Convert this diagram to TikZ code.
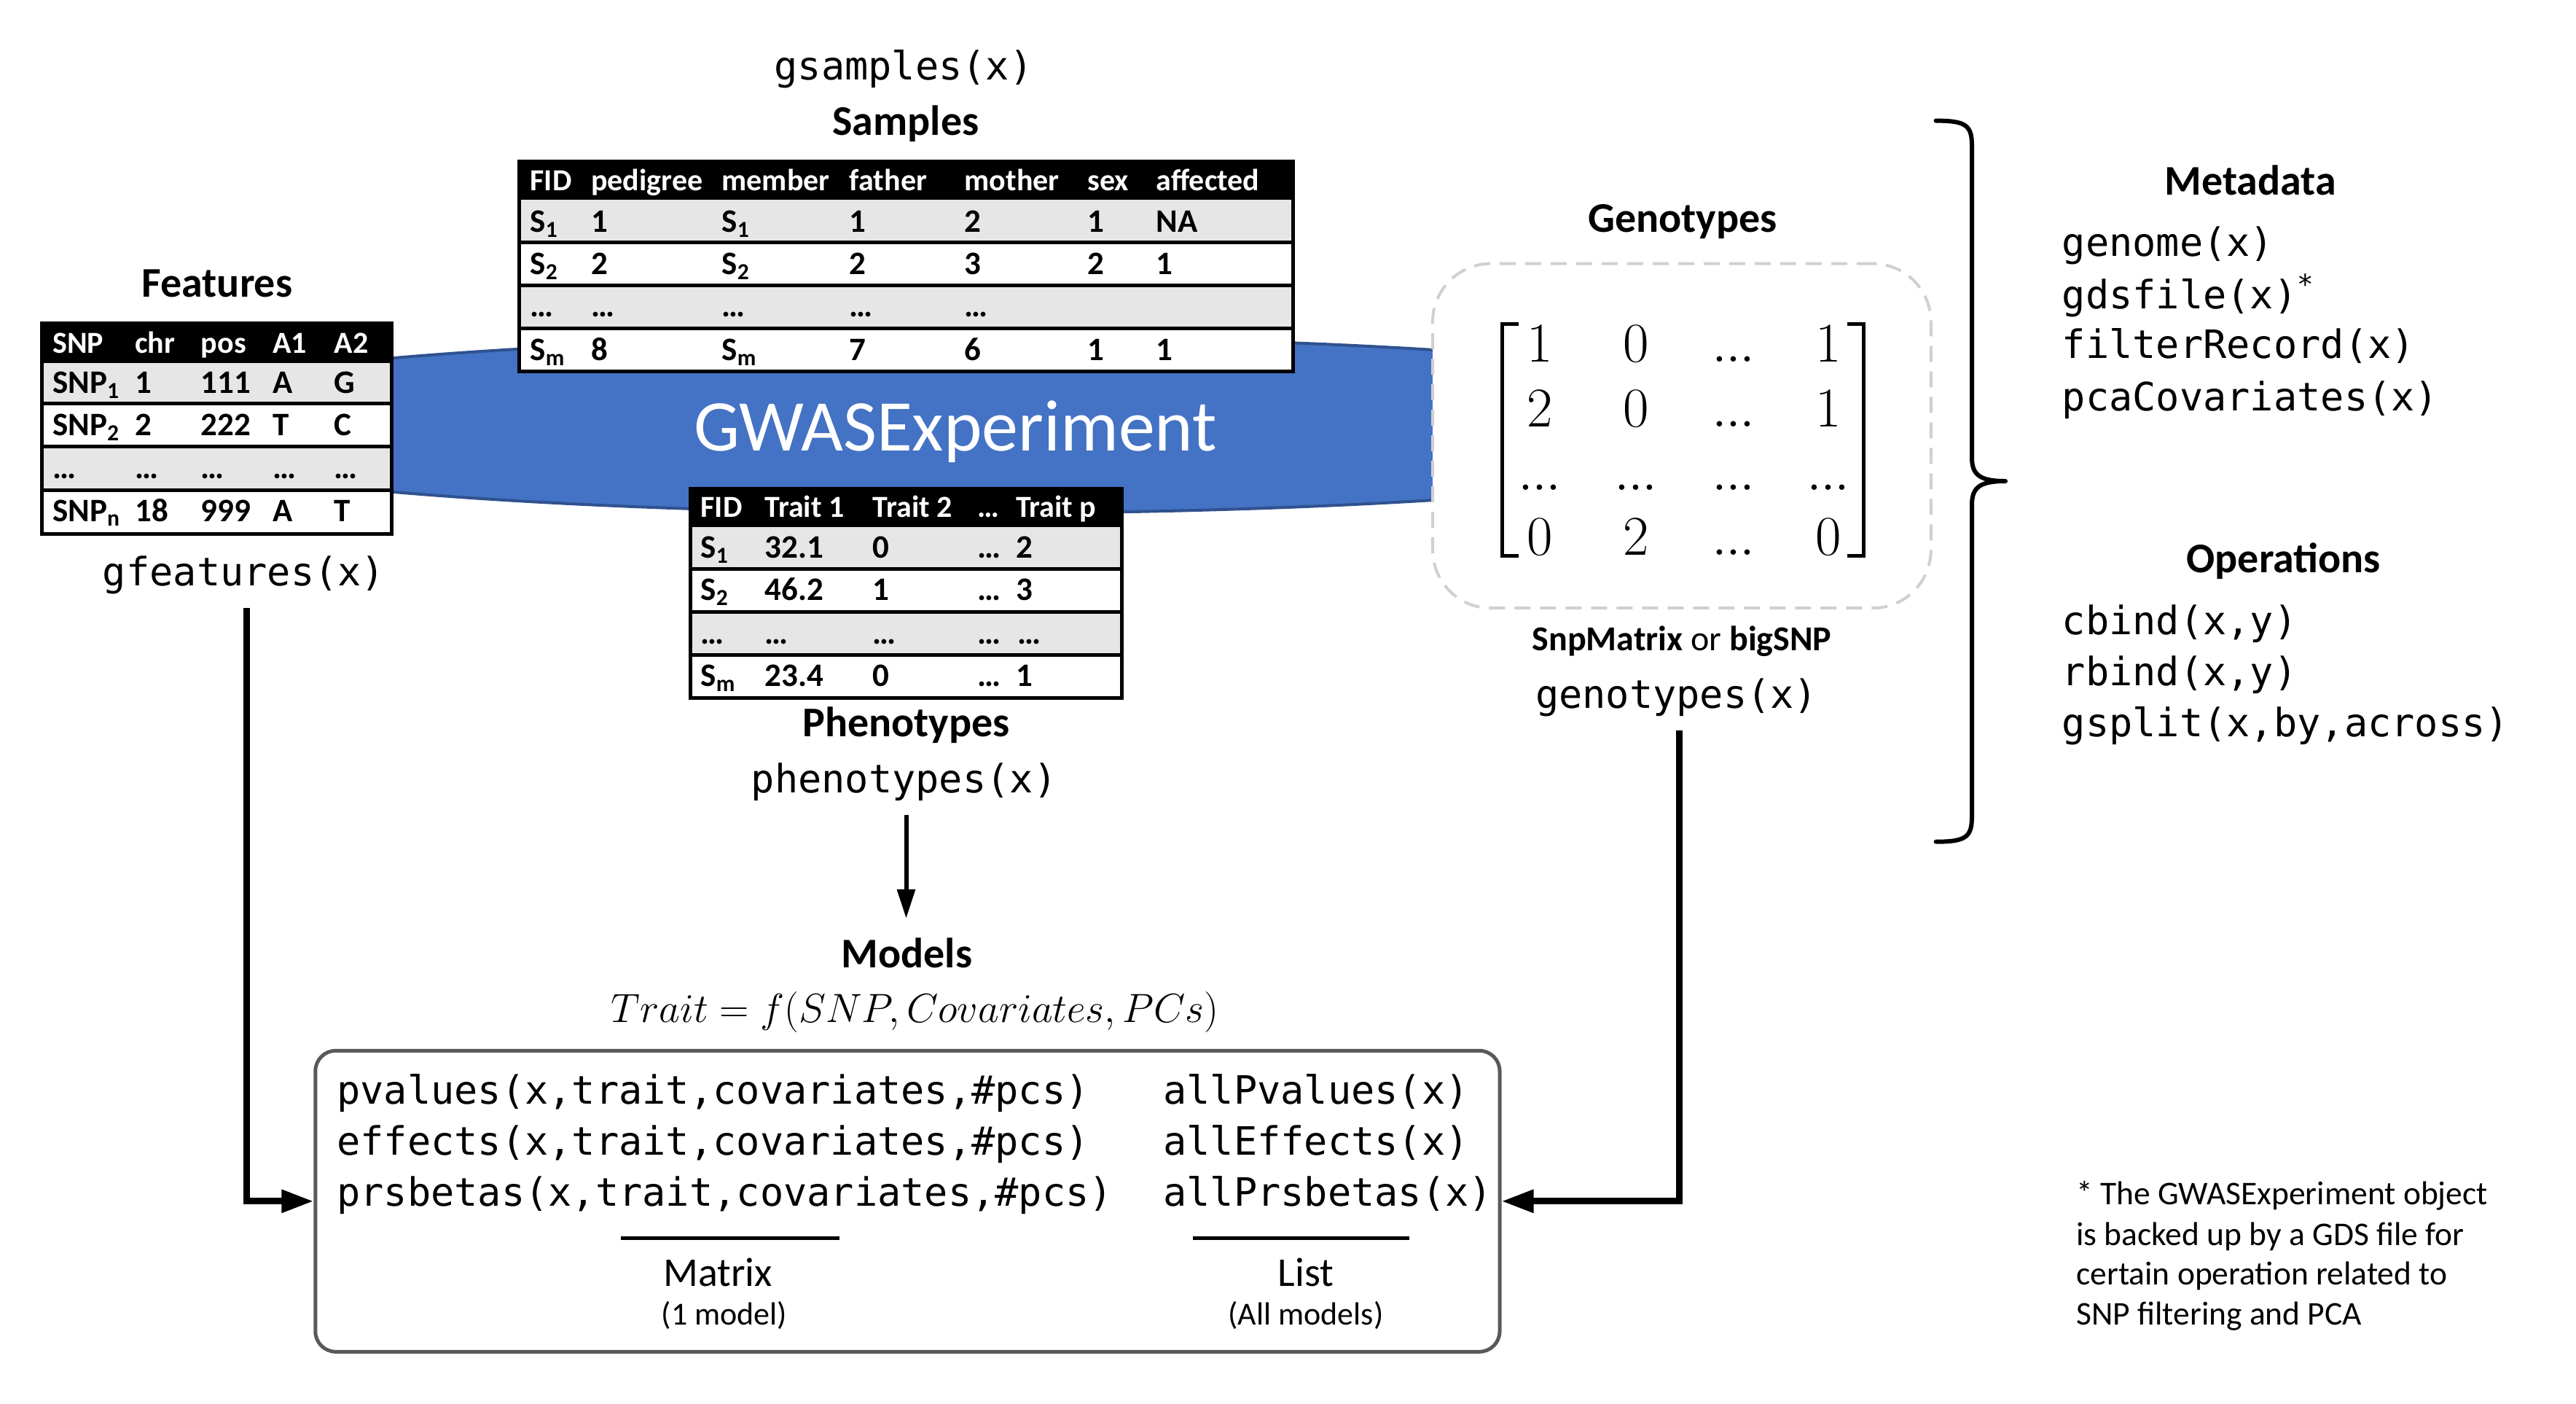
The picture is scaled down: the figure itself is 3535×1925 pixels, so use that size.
\documentclass[tikz,border=0pt]{standalone}
\usepackage{fix-cm}
\usepackage[no-math]{fontspec}
\setmainfont{Carlito}
\setmonofont{DejaVu Sans Mono}
\usetikzlibrary{arrows.meta,shapes.geometric}
\definecolor{rowgray}{HTML}{E7E6E6}
\definecolor{gwasblue}{HTML}{4472C4}
\definecolor{gwasedge}{HTML}{2F528F}
\definecolor{boxgray}{HTML}{595959}
\definecolor{dashgray}{HTML}{D0D0D0}
\newcommand\setfs[1]{\fontsize{#1}{#1}\selectfont}
\newcommand\sbs[1]{\textsubscript{#1}}
\newcommand\mdots{.\mkern-0.5mu.\mkern-0.5mu.}
\begin{document}
\begin{tikzpicture}[x=1pt,y=-1pt,
  monotext/.style={font=\ttfamily\setfs{53.6}, inner sep=0pt},
  heading/.style={font=\bfseries\setfs{58}, inner sep=0pt, anchor=base},
  tabhead/.style={font=\bfseries\setfs{42}, text=white, inner sep=0pt, anchor=base west},
  tabcell/.style={font=\bfseries\setfs{45}, inner sep=0pt, anchor=base west},
  rowline/.style={line width=5pt},
  fatarrow/.style={line width=9pt, -{Triangle[length=44pt,width=30pt]}},
  thinarrow/.style={line width=6pt, -{Triangle[length=40pt,width=24pt]}},
  mathcell/.style={font=\setfs{77}, inner sep=0pt, anchor=base},
  foot/.style={font=\setfs{45.5}, inner sep=0pt, anchor=base west}
]
\useasboundingbox (0,0) rectangle (3535,1925);

% central ellipse
\node[ellipse, fill=gwasblue, draw=gwasedge, line width=4pt, minimum width=2430pt, minimum height=242pt, inner sep=0pt] (gwas) at (1330,583) {};
\node[font=\setfs{100}, text=white, inner sep=0pt, anchor=base] (gwaslabel) at (1311,618) {GWASExperiment};

% ---------------- Samples table
\node[monotext, anchor=base] (gsamp) at (1240,109) {gsamples(x)};
\node[heading] (samtitle) at (1243,185.4) {Samples};
\fill[black] (712.7,221.8) rectangle (1774.2,274.1);
\fill[rowgray] (712.7,274.1) rectangle (1774.2,332.3);
\fill[white] (712.7,332.3) rectangle (1774.2,391.2);
\fill[rowgray] (712.7,391.2) rectangle (1774.2,450.8);
\fill[white] (712.7,450.8) rectangle (1774.2,509);
\draw[rowline] (712.7,332.3) -- (1774.2,332.3) (712.7,391.2) -- (1774.2,391.2) (712.7,450.8) -- (1774.2,450.8);
\draw[line width=5pt] (712.7,221.8) rectangle (1774.2,509);
\foreach \x/\t [count=\i] in {727.3/FID,810.9/pedigree,990.5/member,1165.7/father,1323.5/mother,1492.1/sex,1586.6/affected}
  \node[tabhead] (samh\i) at (\x,261.8) {\t};
\foreach \x/\t [count=\i] in {727.3/S\sbs{1},810.9/1,990.5/S\sbs{1},1165.7/1,1323.5/2,1492.1/1,1586.6/NA}
  \node[tabcell] (sama\i) at (\x,318.5) {\t};
\foreach \x/\t [count=\i] in {727.3/S\sbs{2},810.9/2,990.5/S\sbs{2},1165.7/2,1323.5/3,1492.1/2,1586.6/1}
  \node[tabcell] (samb\i) at (\x,376.6) {\t};
\foreach \x [count=\i] in {727.3,810.9,990.5,1165.7,1323.5}
  \node[tabcell] (samc\i) at (\x,434.8) {…};
\foreach \x/\t [count=\i] in {727.3/S\sbs{m},810.9/8,990.5/S\sbs{m},1165.7/7,1323.5/6,1492.1/1,1586.6/1}
  \node[tabcell] (samd\i) at (\x,494.4) {\t};

% ---------------- Features table
\node[heading] (feattitle) at (298,407.4) {Features};
\fill[black] (57.9,443.2) rectangle (537.8,498.1);
\fill[rowgray] (57.9,498.1) rectangle (537.8,553.9);
\fill[white] (57.9,553.9) rectangle (537.8,612.9);
\fill[rowgray] (57.9,612.9) rectangle (537.8,672.2);
\fill[white] (57.9,672.2) rectangle (537.8,732.5);
\draw[rowline] (57.9,553.9) -- (537.8,553.9) (57.9,612.9) -- (537.8,612.9) (57.9,672.2) -- (537.8,672.2);
\draw[line width=5pt] (57.9,443.2) rectangle (537.8,732.5);
\foreach \x/\t [count=\i] in {72.1/SNP,185.1/chr,275.7/pos,374/A1,458.7/A2}
  \node[tabhead] (feah\i) at (\x,484.7) {\t};
\foreach \x/\t [count=\i] in {72.1/SNP\sbs{1},185.1/1,275.7/111,374/A,458.7/G}
  \node[tabcell] (feaa\i) at (\x,539.6) {\t};
\foreach \x/\t [count=\i] in {72.1/SNP\sbs{2},185.1/2,275.7/222,374/T,458.7/C}
  \node[tabcell] (feab\i) at (\x,597.6) {\t};
\foreach \x [count=\i] in {72.1,185.1,275.7,374,458.7}
  \node[tabcell] (feac\i) at (\x,656.5) {…};
\foreach \x/\t [count=\i] in {72.1/SNP\sbs{n},185.1/18,275.7/999,374/A,458.7/T}
  \node[tabcell] (fead\i) at (\x,715) {\t};
\node[monotext, anchor=base] (gfeat) at (334.6,803) {gfeatures(x)};

% ---------------- Phenotypes table
\fill[black] (947.6,670.4) rectangle (1539.4,723.4);
\fill[rowgray] (947.6,723.4) rectangle (1539.4,780.2);
\fill[white] (947.6,780.2) rectangle (1539.4,839.8);
\fill[rowgray] (947.6,839.8) rectangle (1539.4,898);
\fill[white] (947.6,898) rectangle (1539.4,957.6);
\draw[rowline] (947.6,780.2) -- (1539.4,780.2) (947.6,839.8) -- (1539.4,839.8) (947.6,898) -- (1539.4,898);
\draw[line width=5pt] (947.6,670.4) rectangle (1539.4,957.6);
\foreach \x/\t [count=\i] in {961.4/FID,1049.3/Trait 1,1197.7/Trait 2,1341.6/…,1394/Trait p}
  \node[tabhead] (phh\i) at (\x,709) {\t};
\foreach \x/\t [count=\i] in {961.4/S\sbs{1},1049.3/32.1,1197.7/0,1341.6/…,1394/2}
  \node[tabcell] (pha\i) at (\x,765.6) {\t};
\foreach \x/\t [count=\i] in {961.4/S\sbs{2},1049.3/46.2,1197.7/1,1341.6/…,1394/3}
  \node[tabcell] (phb\i) at (\x,823.8) {\t};
\foreach \x [count=\i] in {961.4,1049.3,1197.7,1341.6,1396}
  \node[tabcell] (phc\i) at (\x,883.4) {…};
\foreach \x/\t [count=\i] in {961.4/S\sbs{m},1049.3/23.4,1197.7/0,1341.6/…,1394/1}
  \node[tabcell] (phd\i) at (\x,941.6) {\t};
\node[heading] (phtitle) at (1243.5,1010.6) {Phenotypes};
\node[monotext, anchor=base] (pheno) at (1240.6,1087) {phenotypes(x)};

% ---------------- Genotypes
\node[heading] (gentitle) at (2309,318.9) {Genotypes};
\node[draw=dashgray, dash pattern=on 22pt off 13pt, line width=4pt, rounded corners=80pt, fill=white, minimum width=683.8pt, minimum height=472.6pt, inner sep=0pt] (gbox) at (2307.9,597.9) {};
\draw[line width=5pt] (2083.5,444.8) -- (2061.6,444.8) -- (2061.6,762.8) -- (2083.5,762.8);
\draw[line width=5pt] (2535,444.8) -- (2557,444.8) -- (2557,762.8) -- (2535,762.8);
\foreach \x/\t [count=\i] in {2113/1,2245/0,2379/\mdots,2509/1}
  \node[mathcell] (ma\i) at (\x,496) {$\t$};
\foreach \x/\t [count=\i] in {2113/2,2245/0,2379/\mdots,2509/1}
  \node[mathcell] (mb\i) at (\x,585) {$\t$};
\foreach \x [count=\i] in {2113,2245,2379,2509}
  \node[mathcell] (mc\i) at (\x,672) {$\mdots$};
\foreach \x/\t [count=\i] in {2113/0,2245/2,2379/\mdots,2509/0}
  \node[mathcell] (md\i) at (\x,761.5) {$\t$};
\node[font=\setfs{48}, inner sep=0pt, anchor=base] (gtype) at (2308,892.5) {\textbf{SnpMatrix} or \textbf{bigSNP}};
\node[monotext, anchor=base] (genox) at (2300.6,971) {genotypes(x)};

% ---------------- Brace and right column
\draw[line width=6pt, line join=round, line cap=round] (2656.6,165.6) .. controls (2698,165.6) and (2706,172) .. (2706,200) -- (2706,628) .. controls (2706,652) and (2718,660) .. (2752,660) .. controls (2718,660) and (2706,668) .. (2706,692) -- (2706,1120) .. controls (2706,1148) and (2698,1154.7) .. (2656.6,1154.7);
\node[heading] (metatitle) at (3088,267.3) {Metadata};
\node[monotext, anchor=base west] (m1) at (2829.6,351.5) {genome(x)};
\node[monotext, anchor=base west] (m2) at (2829.6,423) {gdsfile(x)\textsuperscript{*}};
\node[monotext, anchor=base west] (m3) at (2829.6,491.8) {filterRecord(x)};
\node[monotext, anchor=base west] (m4) at (2829.6,563.4) {pcaCovariates(x)};
\node[heading] (optitle) at (3133.7,785) {Operations};
\node[monotext, anchor=base west] (o1) at (2829.6,870.6) {cbind(x,y)};
\node[monotext, anchor=base west] (o2) at (2829.6,940.8) {rbind(x,y)};
\node[monotext, anchor=base west] (o3) at (2829.6,1010.9) {gsplit(x,by,across)};

% ---------------- Models
\node[heading] (modtitle) at (1244.5,1327.4) {Models};
\node[font=\setfs{56}, inner sep=0pt, anchor=base] (formula) at (1255.6,1402) {$Trait = f(SNP, Covariates, PCs)$};
\node[draw=boxgray, line width=5pt, rounded corners=28pt, minimum width=1625.2pt, minimum height=413pt, inner sep=0pt] (mbox) at (1245.4,1647.8) {};
\node[monotext, anchor=base west] (l1) at (462,1514) {pvalues(x,trait,covariates,\#pcs)};
\node[monotext, anchor=base west] (l2) at (462,1584) {effects(x,trait,covariates,\#pcs)};
\node[monotext, anchor=base west] (l3) at (462,1654) {prsbetas(x,trait,covariates,\#pcs)};
\node[monotext, anchor=base west] (r1) at (1596,1514) {allPvalues(x)};
\node[monotext, anchor=base west] (r2) at (1596,1584) {allEffects(x)};
\node[monotext, anchor=base west] (r3) at (1596,1654) {allPrsbetas(x)};
\draw[line width=5pt] (852,1698) -- (1152,1698);
\draw[line width=5pt] (1637,1698) -- (1934,1698);
\node[font=\setfs{56}, inner sep=0pt, anchor=base] (matlbl) at (985,1764) {Matrix};
\node[font=\setfs{44}, inner sep=0pt, anchor=base] (matsub) at (994,1817) {(1 model)};
\node[font=\setfs{56}, inner sep=0pt, anchor=base] (listlbl) at (1792,1764) {List};
\node[font=\setfs{44}, inner sep=0pt, anchor=base] (listsub) at (1792,1817) {(All models)};

% ---------------- connectors
\coordinate (fstart) at (338,834);
\coordinate (gstart) at (2304,1001.6);
\coordinate (pstart) at (1243.5,1117.5);
\coordinate (pend) at (1243.5,1260);
\draw[fatarrow] (fstart) |- (mbox.west);
\draw[fatarrow] (gstart) |- (mbox.east);
\draw[thinarrow] (pstart) -- (pend);

% ---------------- footnote
\node[foot] (fn1) at (2849,1652) {* The GWASExperiment object};
\node[foot] (fn2) at (2849,1708) {is backed up by a GDS file for};
\node[foot] (fn3) at (2849,1762) {certain operation related to};
\node[foot] (fn4) at (2849,1817) {SNP filtering and PCA};
\end{tikzpicture}
\end{document}
